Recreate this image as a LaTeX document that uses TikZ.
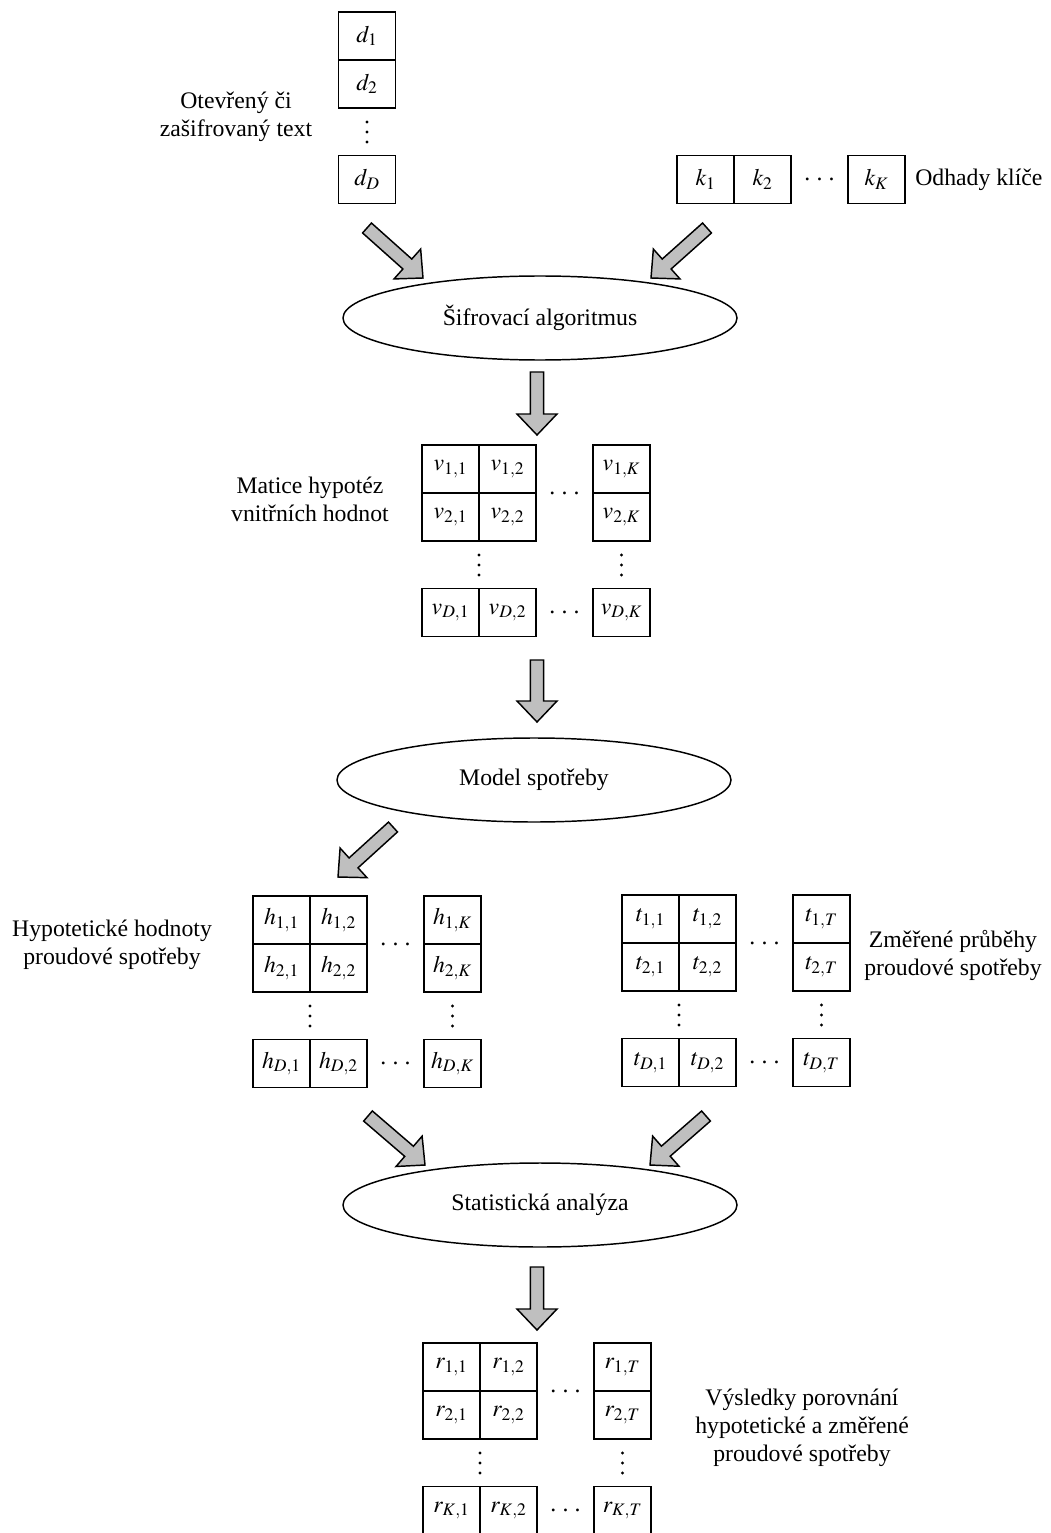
\documentclass[tikz,border=0pt]{standalone}
\usepackage{mathptmx}
\usepackage{fontspec}
\setmainfont{Liberation Serif}
\usetikzlibrary{shapes.geometric,calc}

% text size used throughout
\newcommand\dsize{\fontsize{17.8}{21}\selectfont}
% horizontal dots between cells
\newcommand\mycdots{\hbox{.\kern4.6pt.\kern4.6pt.}}
% vertical dots drawn round a named coordinate
\newcommand\vdotsat[1]{%
  \fill ($(#1)+(0,-10)$) circle (1.6) (#1) circle (1.6) ($(#1)+(0,10)$) circle (1.6);}

\tikzset{
  lbl/.style={font=\dsize, align=center, inner sep=0pt},
  cell/.style={draw, line width=1.4pt, minimum width=42.75pt, minimum height=36pt,
               inner sep=0pt, font=\dsize},
  dotsnode/.style={inner sep=0pt, font=\dsize},
  proc/.style={draw, ellipse, line width=1.1pt, minimum width=295.5pt,
               minimum height=63pt, inner sep=0pt, font=\dsize},
  blockarrow/.style={draw, fill=gray!50, line width=1.1pt, line join=miter},
}

% thick block arrow from #1 to #2 (named coordinates)
\newcommand\fatarrow[2]{%
  \coordinate (fa-b) at ($(#2)!15.75pt!(#1)$);
  \draw[blockarrow] ($(#1)!5pt!90:(#2)$) -- ($(fa-b)!5pt!90:(#2)$)
    -- ($(fa-b)!15pt!90:(#2)$) -- (#2) -- ($(fa-b)!15pt!-90:(#2)$)
    -- ($(fa-b)!5pt!-90:(#2)$) -- ($(#1)!5pt!-90:(#2)$) -- cycle;}

% matrix of cells: #1 name, #2 letter, #3 left, #4 top, #5 last row, #6 last column
\newcommand\hypmat[6]{%
  \node[cell] (#1-11) at (#3+28.5,#4+24) {$#2_{1,1}$};
  \node[cell] (#1-12) at (#3+85.5,#4+24) {$#2_{1,2}$};
  \node[cell] (#1-1n) at (#3+199.5,#4+24) {$#2_{1,#6}$};
  \node[cell] (#1-21) at (#3+28.5,#4+72) {$#2_{2,1}$};
  \node[cell] (#1-22) at (#3+85.5,#4+72) {$#2_{2,2}$};
  \node[cell] (#1-2n) at (#3+199.5,#4+72) {$#2_{2,#6}$};
  \node[cell] (#1-m1) at (#3+28.5,#4+167.5) {$#2_{#5,1}$};
  \node[cell] (#1-m2) at (#3+85.5,#4+167.5) {$#2_{#5,2}$};
  \node[cell] (#1-mn) at (#3+199.5,#4+167.5) {$#2_{#5,#6}$};
  \node[dotsnode] (#1-hd1) at (#3+142.5,#4+48) {\mycdots};
  \node[dotsnode] (#1-hd2) at (#3+142.5,#4+167.5) {\mycdots};
  \coordinate (#1-vd1) at (#3+57,#4+120);
  \coordinate (#1-vd2) at (#3+199.5,#4+120);
  \vdotsat{#1-vd1}
  \vdotsat{#1-vd2}
}

\begin{document}
\begin{tikzpicture}[x=0.75pt, y=-0.75pt]
\useasboundingbox (0,0) rectangle (1050,1533);

% input data column
\node[cell] (d1) at (367,36) {$d_1$};
\node[cell] (d2) at (367,84) {$d_2$};
\coordinate (dv) at (367,132);
\vdotsat{dv}
\node[cell] (dD) at (367,179.5) {$d_D$};
\node[lbl] (dlabel) at (236,117) {Otevřený či\\zašifrovaný text};

% key guesses row
\node[cell] (k1) at (705.5,179.5) {$k_1$};
\node[cell] (k2) at (762.5,179.5) {$k_2$};
\node[dotsnode] (kc) at (819.5,179.5) {\mycdots};
\node[cell] (kK) at (876.5,179.5) {$k_K$};
\node[lbl, anchor=west] (klabel) at (915,180) {Odhady klíče};

% cipher
\node[proc] (enc) at (540,318) {Šifrovací algoritmus};

% intermediate values
\hypmat{v}{v}{422}{445}{D}{K}
\node[lbl] (vlabel) at (310,499) {Matice hypotéz\\vnitřních hodnot};

% power model
\node[proc] (model) at (534,780) {Model spotřeby};

% hypothetical consumption
\hypmat{h}{h}{253}{896}{D}{K}
\node[lbl] (hlabel) at (112,945) {Hypotetické hodnoty\\proudové spotřeby};

% measured traces
\hypmat{t}{t}{622}{895}{D}{T}
\node[lbl] (tlabel) at (953,955) {Změřené průběhy\\proudové spotřeby};

% statistics
\node[proc] (stat) at (540,1205) {Statistická analýza};

% results
\hypmat{r}{r}{423}{1343}{K}{T}
\node[lbl] (rlabel) at (802,1428) {Výsledky porovnání\\hypotetické a změřené\\proudové spotřeby};

% arrow end points
\coordinate (a1s) at (367,228);  \coordinate (a1e) at (423,278);
\coordinate (a2s) at (707,228);  \coordinate (a2e) at (651,278);
\coordinate (a3s) at (537,372);  \coordinate (a3e) at (537,435);
\coordinate (a4s) at (537,660);  \coordinate (a4e) at (537,722);
\coordinate (a5s) at (393,827);  \coordinate (a5e) at (338,877);
\coordinate (a6s) at (368,1116); \coordinate (a6e) at (425,1165);
\coordinate (a7s) at (706,1116); \coordinate (a7e) at (650,1165);
\coordinate (a8s) at (537,1267); \coordinate (a8e) at (537,1330);

\fatarrow{a1s}{a1e}
\fatarrow{a2s}{a2e}
\fatarrow{a3s}{a3e}
\fatarrow{a4s}{a4e}
\fatarrow{a5s}{a5e}
\fatarrow{a6s}{a6e}
\fatarrow{a7s}{a7e}
\fatarrow{a8s}{a8e}
\end{tikzpicture}
\end{document}
